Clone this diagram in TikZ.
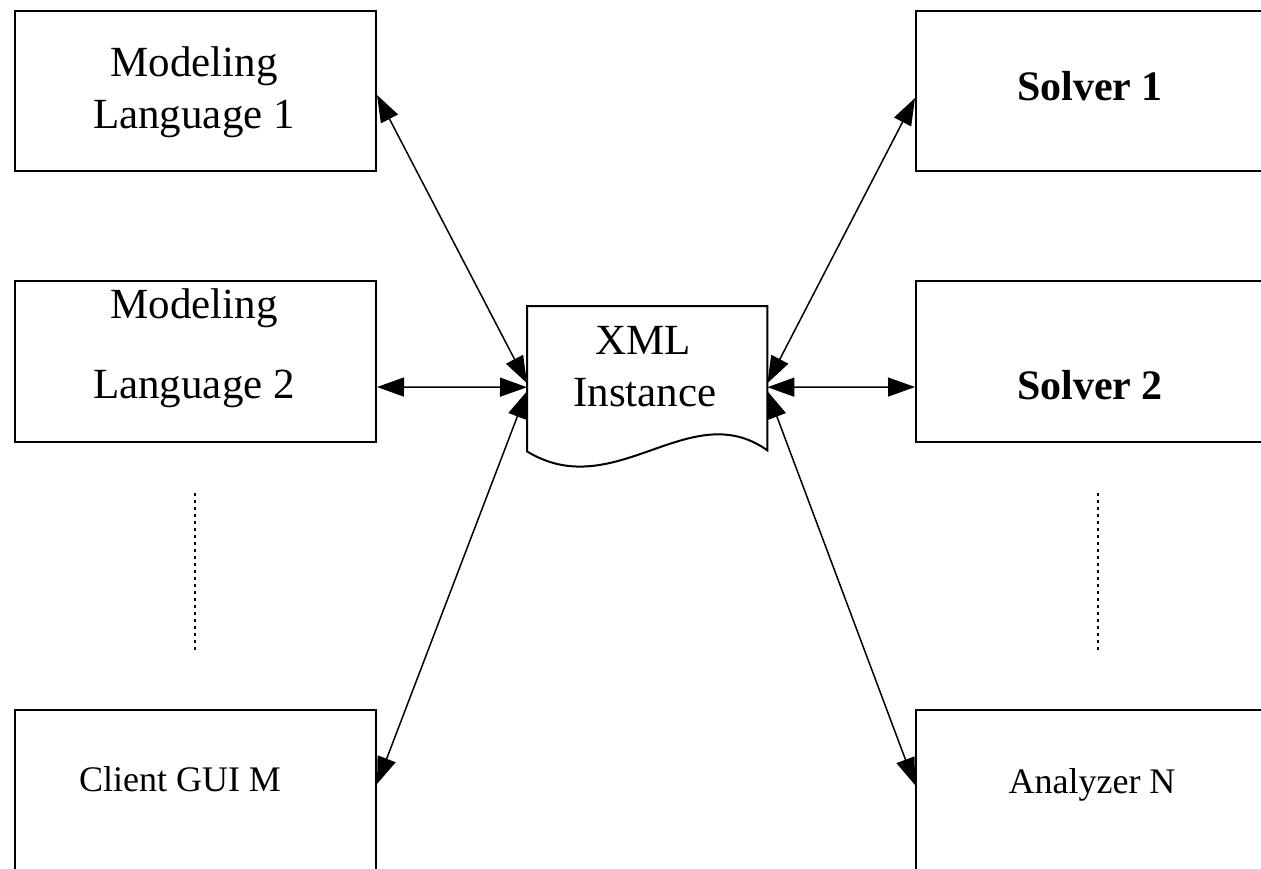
\documentclass[tikz,border=0pt]{standalone}
\usepackage{fontspec}
\setmainfont{Liberation Serif}
\usetikzlibrary{arrows.meta}

\tikzset{
  blk/.style={draw=black, line width=2pt, fill=none, inner sep=0pt, anchor=north west},
  lbl/.style={anchor=base, inner sep=0pt, font=\fontsize{43}{50}\selectfont},
  blbl/.style={anchor=base, inner sep=0pt, font=\fontsize{42}{50}\selectfont\bfseries},
  slbl/.style={anchor=base, inner sep=0pt, font=\fontsize{36}{42}\selectfont},
  conn/.style={line width=1.5pt, {Triangle[length=27pt,width=19pt]}-{Triangle[length=27pt,width=19pt]}},
  ellip/.style={line width=2.5pt, dash pattern=on 3pt off 4pt}
}

\begin{document}
\begin{tikzpicture}[x=1pt, y=-1pt]
  \useasboundingbox (0,0) rectangle (1261,868);
  \clip (0,0) rectangle (1261,868);
  \fill[white] (0,0) rectangle (1261,868);

  % left column
  \node[blk, minimum width=361pt, minimum height=160pt] (ml1) at (14,10) {};
  \node[blk, minimum width=361pt, minimum height=161pt] (ml2) at (14,280) {};
  \node[blk, minimum width=361pt, minimum height=200pt] (cl)  at (14,709) {};

  % right column (runs past the right edge)
  \node[blk, minimum width=400pt, minimum height=160pt] (s1) at (915,10) {};
  \node[blk, minimum width=400pt, minimum height=161pt] (s2) at (915,280) {};
  \node[blk, minimum width=400pt, minimum height=200pt] (an) at (915,709) {};

  % central document shape
  \node[inner sep=0pt, minimum width=240pt, minimum height=145pt, anchor=north west] (xml) at (527,306) {};
  \draw[line width=2pt, line join=miter]
    (xml.south west) -- (xml.north west) -- (xml.north east) -- ([yshift=1pt]xml.south east)
    .. controls (690,395) and (615,505) .. (xml.south west) -- cycle;

  % labels
  \node[lbl] (t1a) at (194,76) {Modeling};
  \node[lbl] (t1b) at (194,128) {Language 1};
  \node[lbl] (t2a) at (194,318) {Modeling};
  \node[lbl] (t2b) at (194,398) {Language 2};
  \node[slbl] (t3) at (180,791) {Client GUI M};
  \node[blbl] (u1) at (1090,100) {Solver 1};
  \node[blbl] (u2) at (1090,399) {Solver 2};
  \node[slbl] (u3) at (1092,793) {Analyzer N};
  \node[lbl] (xa) at (643,354) {XML};
  \node[lbl] (xb) at (645,406) {Instance};

  % ellipses between the entries
  \draw[ellip] (195,493) -- (195,650);
  \draw[ellip] (1098,493) -- (1098,650);

  % connectors
  \draw[conn] ([yshift=-85pt]ml1.north east) -- ([yshift=-4.5pt]xml.west);
  \draw[conn] ([yshift=-107pt]ml2.north east) -- ([yshift=-8.5pt]xml.west);
  \draw[conn] ([yshift=-75pt]cl.north east)   -- ([yshift=-12.5pt]xml.west);
  \draw[conn] ([yshift=-88pt]s1.north west)   -- ([yshift=-4.5pt]xml.east);
  \draw[conn] ([yshift=-107pt]s2.north west)  -- ([yshift=-8.5pt]xml.east);
  \draw[conn] ([yshift=-76pt]an.north west)   -- ([yshift=-12.5pt]xml.east);
\end{tikzpicture}
\end{document}
